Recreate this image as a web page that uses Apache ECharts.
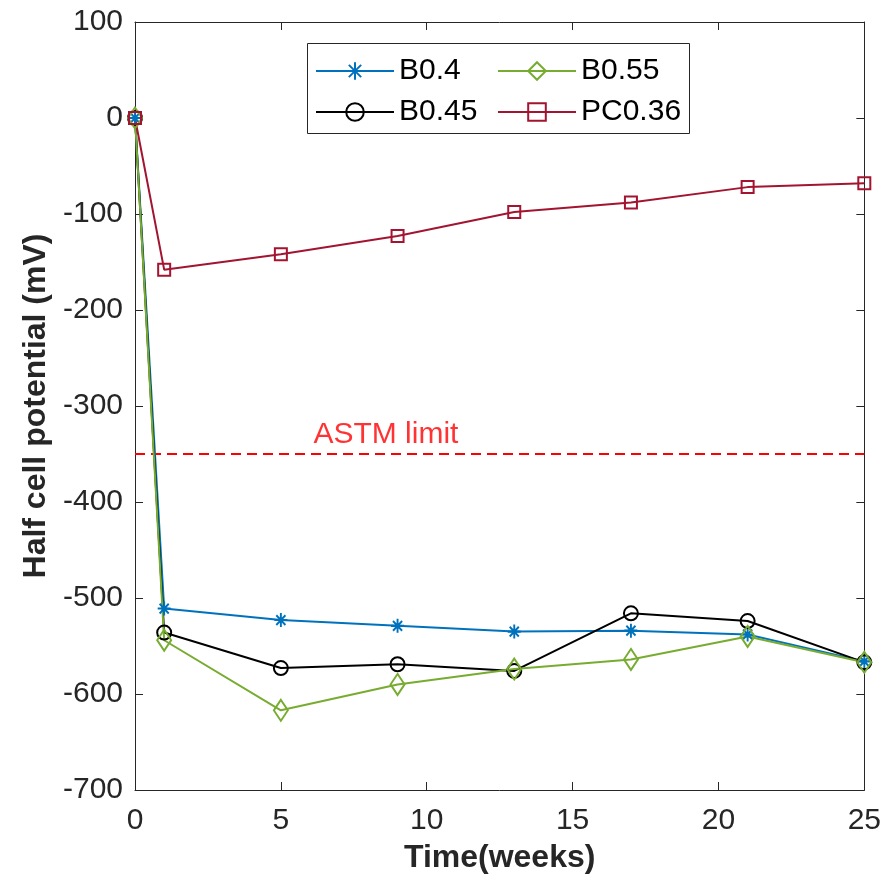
<!DOCTYPE html>
<html><head><meta charset="utf-8">
<script src="https://cdn.jsdelivr.net/npm/echarts@6/dist/echarts.min.js"></script>
<style>html,body{margin:0;padding:0;background:#fff}#c{width:884px;height:881px}</style>
</head><body><div id="c"></div>
<script>
const weeks = [0, 1, 5, 9, 13, 17, 21, 25];
const B04 = [0, -511, -523, -529, -535, -534, -538, -566];
const B045 = [0, -536, -573, -569, -576, -516, -524, -567];
const B055 = [0, -544, -617, -590, -574, -564, -540, -567];
const PC036 = [0, -158, -142, -123, -98, -88, -72, -68];
const astmLimit = -350;
const astmLabelX = 8.6;
const xTicks = [0, 5, 10, 15, 20, 25];
const yTicks = [-700, -600, -500, -400, -300, -200, -100, 0, 100];

const FONT = '"Liberation Sans", Arial, Helvetica, sans-serif';
const AX = '#262626';
const pair = ys => weeks.map((w, i) => [w, ys[i]]);
const asterisk = 'path://M0,-1L0,1M-1,0L1,0M-0.7,-0.7L0.7,0.7M-0.7,0.7L0.7,-0.7';

function mk(name, data, color, symbol, size, fill) {
  return {
    name, type: 'line', data: pair(data), symbol, symbolSize: size,
    lineStyle: { color, width: 2 },
    itemStyle: { color: fill, borderColor: color, borderWidth: 2 },
    emphasis: { disabled: true }, animation: false, z: 3
  };
}

const chart = echarts.init(document.getElementById('c'));
const axisCommon = {
  axisLine: { show: true, onZero: false, lineStyle: { color: AX, width: 1 } },
  axisTick: { show: true, inside: true, length: 8, lineStyle: { color: AX } },
  splitLine: { show: false }
};
const legendText = { fontFamily: FONT, fontSize: 30, color: '#000' };
chart.setOption({
  animation: false,
  grid: { left: 135, right: 19.5, top: 22, bottom: 91, containLabel: false },
  xAxis: [
    Object.assign({ type: 'value', min: 0, max: 25, interval: 5, position: 'bottom',
      name: 'Time(weeks)', nameLocation: 'middle', nameGap: 52,
      nameTextStyle: { fontFamily: FONT, fontSize: 32, fontWeight: 'bold', color: AX },
      axisLabel: { margin: 16, fontFamily: FONT, fontSize: 30, color: AX } }, axisCommon),
    Object.assign({ type: 'value', min: 0, max: 25, interval: 5, position: 'top',
      axisLabel: { show: false } }, axisCommon)
  ],
  yAxis: [
    Object.assign({ type: 'value', min: -700, max: 100, interval: 100, position: 'left',
      name: 'Half cell potential (mV)', nameLocation: 'middle', nameGap: 82,
      nameTextStyle: { fontFamily: FONT, fontSize: 32, fontWeight: 'bold', color: AX },
      axisLabel: { margin: 12, fontFamily: FONT, fontSize: 30, color: AX } }, axisCommon),
    Object.assign({ type: 'value', min: -700, max: 100, interval: 100, position: 'right',
      axisLabel: { show: false } }, axisCommon)
  ],
  legend: [
    { data: ['B0.4', 'B0.45'], orient: 'vertical', left: 315, top: 56, padding: 0,
      itemWidth: 78, itemHeight: 22, itemGap: 11,
      textStyle: legendText, selectedMode: false },
    { data: ['B0.55', 'PC0.36'], orient: 'vertical', left: 497, top: 56, padding: 0,
      itemWidth: 78, itemHeight: 22, itemGap: 11,
      textStyle: legendText, selectedMode: false }
  ],
  graphic: [
    { type: 'rect', shape: { x: 307.5, y: 43.5, width: 382, height: 90 },
      style: { fill: '#fff', stroke: AX, lineWidth: 1 }, z: 3 }
  ],
  series: [
    mk('B0.4', B04, '#0072BD', asterisk, [13, 14], '#0072BD'),
    mk('B0.45', B045, '#000000', 'circle', 14, 'rgba(0,0,0,0)'),
    mk('B0.55', B055, '#77AC30', 'diamond', [14, 21], 'rgba(0,0,0,0)'),
    mk('PC0.36', PC036, '#A2142F', 'rect', 12, 'rgba(0,0,0,0)'),
    { name: 'ASTM', type: 'line', data: [[0, astmLimit], [25, astmLimit]], symbol: 'none',
      lineStyle: { color: '#FF0000', width: 2, type: [10, 6] }, z: 2, animation: false },
    { name: 'ASTMlabel', type: 'scatter', data: [[astmLabelX, astmLimit]], symbolSize: 0,
      label: { show: true, position: 'top', distance: 4, formatter: 'ASTM limit',
        fontFamily: FONT, fontSize: 30, color: '#FF0000' }, z: 2, animation: false }
  ]
});
</script></body></html>
